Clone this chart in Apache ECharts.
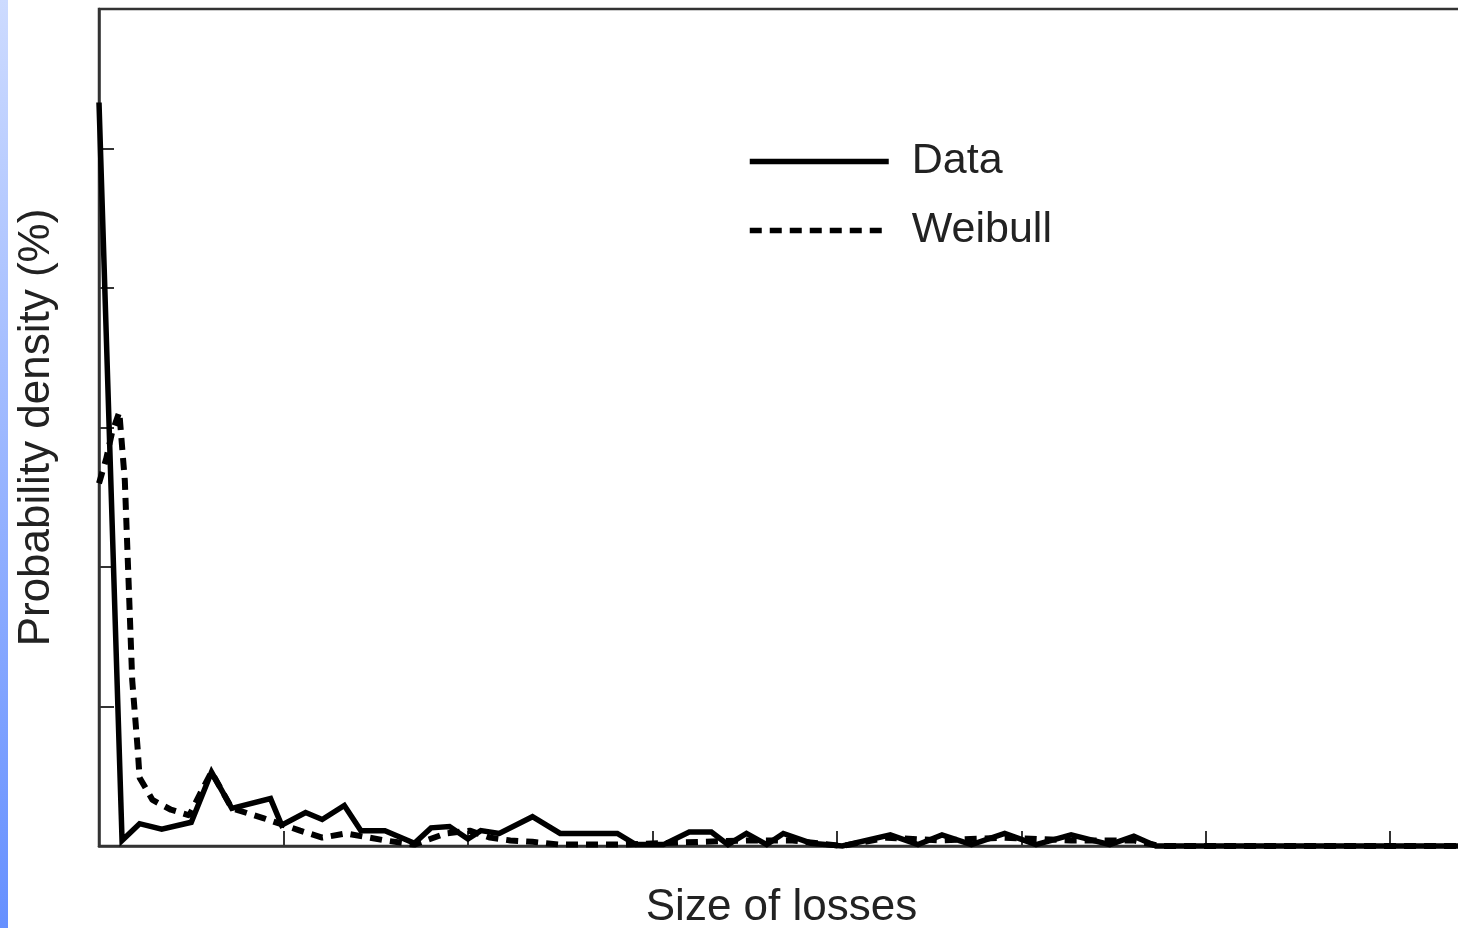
<!DOCTYPE html>
<html>
<head>
<meta charset="utf-8">
<script src="https://cdn.jsdelivr.net/npm/echarts@6/dist/echarts.min.js"></script>
<style>
html,body{margin:0;padding:0;background:#fff;overflow:hidden;width:1458px;height:928px;}
#chart{width:1600px;height:928px;}
</style>
</head>
<body>
<div id="chart"></div>
<script>
// Size of losses (x) and probability density (%) (y)
const dataX = [0, 0.125, 0.22, 0.34, 0.50, 0.61, 0.72, 0.93, 0.99, 1.12, 1.21, 1.33, 1.42, 1.55, 1.71, 1.80, 1.90, 2.00, 2.07, 2.17, 2.35, 2.50, 2.81, 2.91, 3.06, 3.20, 3.32, 3.41, 3.51, 3.62, 3.71, 3.86, 4.03, 4.29, 4.44, 4.57, 4.73, 4.91, 5.08, 5.27, 5.48, 5.61, 5.73, 7.4];
const dataY = [5.33, 0.04, 0.16, 0.12, 0.17, 0.53, 0.27, 0.34, 0.15, 0.24, 0.19, 0.29, 0.11, 0.11, 0.02, 0.13, 0.14, 0.05, 0.11, 0.09, 0.21, 0.09, 0.09, 0.01, 0.01, 0.10, 0.10, 0.01, 0.09, 0.01, 0.09, 0.02, 0.0, 0.08, 0.01, 0.08, 0.01, 0.09, 0.01, 0.08, 0.01, 0.07, 0.0, 0.0];
const weibullX = [0, 0.04, 0.07, 0.11, 0.14, 0.16, 0.18, 0.21, 0.22, 0.29, 0.39, 0.49, 0.55, 0.61, 0.72, 0.89, 0.98, 1.09, 1.21, 1.34, 1.55, 1.71, 1.88, 2.01, 2.12, 2.23, 2.35, 2.50, 2.83, 3.26, 3.53, 3.76, 4.03, 4.27, 4.56, 4.91, 5.27, 5.61, 5.75, 7.4];
const weibullY = [2.60, 2.78, 2.96, 3.11, 2.62, 1.91, 1.19, 0.69, 0.49, 0.33, 0.26, 0.22, 0.38, 0.53, 0.27, 0.20, 0.16, 0.11, 0.06, 0.09, 0.04, 0.01, 0.09, 0.11, 0.06, 0.04, 0.03, 0.01, 0.01, 0.03, 0.04, 0.04, 0.0, 0.06, 0.04, 0.06, 0.04, 0.04, 0.0, 0.0];
const seriesNames = ['Data', 'Weibull'];
const xAxisName = 'Size of losses';
const yAxisName = 'Probability density (%)';

const pairs = (xs, ys) => xs.map((x, i) => [x, ys[i]]);

const chart = echarts.init(document.getElementById('chart'), null, {renderer: 'canvas'});
const font = 'Liberation Sans, Arial, Helvetica, sans-serif';
chart.setOption({
  backgroundColor: '#ffffff',
  animation: false,
  graphic: [{
    type: 'rect',
    left: 0, top: 0,
    shape: {width: 8, height: 928},
    style: {
      fill: new echarts.graphic.LinearGradient(0, 0, 0, 1, [
        {offset: 0, color: '#cddbff'},
        {offset: 1, color: '#6690ff'}
      ])
    },
    z: 10
  }],
  grid: {
    left: 99, top: 9, width: 1365, height: 837,
    outerBoundsMode: 'none', containLabel: false,
    show: true, borderColor: '#333', borderWidth: 2.5, backgroundColor: 'transparent'
  },
  legend: {
    orient: 'vertical',
    left: 747, top: 140, padding: 0,
    itemWidth: 139, itemHeight: 14, itemGap: 26,
    itemStyle: {opacity: 0},
    lineStyle: {width: 5.5},
    textStyle: {fontFamily: font, fontSize: 43, color: '#222', lineHeight: 42, padding: [0, 0, 0, 18]},
    data: seriesNames
  },
  xAxis: {
    type: 'value', min: 0, max: 7.4, interval: 1,
    name: xAxisName, nameLocation: 'middle', nameGap: 40,
    nameTextStyle: {fontFamily: font, fontSize: 44, color: '#222'},
    axisLine: {show: true, lineStyle: {color: '#333', width: 2.5}},
    axisTick: {show: true, inside: true, length: 15, lineStyle: {color: '#333', width: 2}},
    axisLabel: {show: false},
    splitLine: {show: false}
  },
  yAxis: {
    type: 'value', min: 0, max: 6, interval: 1,
    name: yAxisName, nameLocation: 'middle', nameGap: 40, nameRotate: 90,
    nameTextStyle: {fontFamily: font, fontSize: 44, color: '#222'},
    axisLine: {show: true, lineStyle: {color: '#333', width: 2.5}},
    axisTick: {show: true, inside: true, length: 15, lineStyle: {color: '#333', width: 2}},
    axisLabel: {show: false},
    splitLine: {show: false}
  },
  series: [{
    name: seriesNames[0],
    type: 'line',
    data: pairs(dataX, dataY),
    showSymbol: false, symbol: 'none',
    clip: false,
    lineStyle: {color: '#000', width: 5.5, join: 'miter'},
    itemStyle: {color: '#000'},
    z: 3
  }, {
    name: seriesNames[1],
    type: 'line',
    data: pairs(weibullX, weibullY),
    showSymbol: false, symbol: 'none',
    clip: false,
    lineStyle: {color: '#000', width: 6, type: [12, 8]},
    itemStyle: {color: '#000'},
    z: 2
  }]
});
</script>
</body>
</html>
